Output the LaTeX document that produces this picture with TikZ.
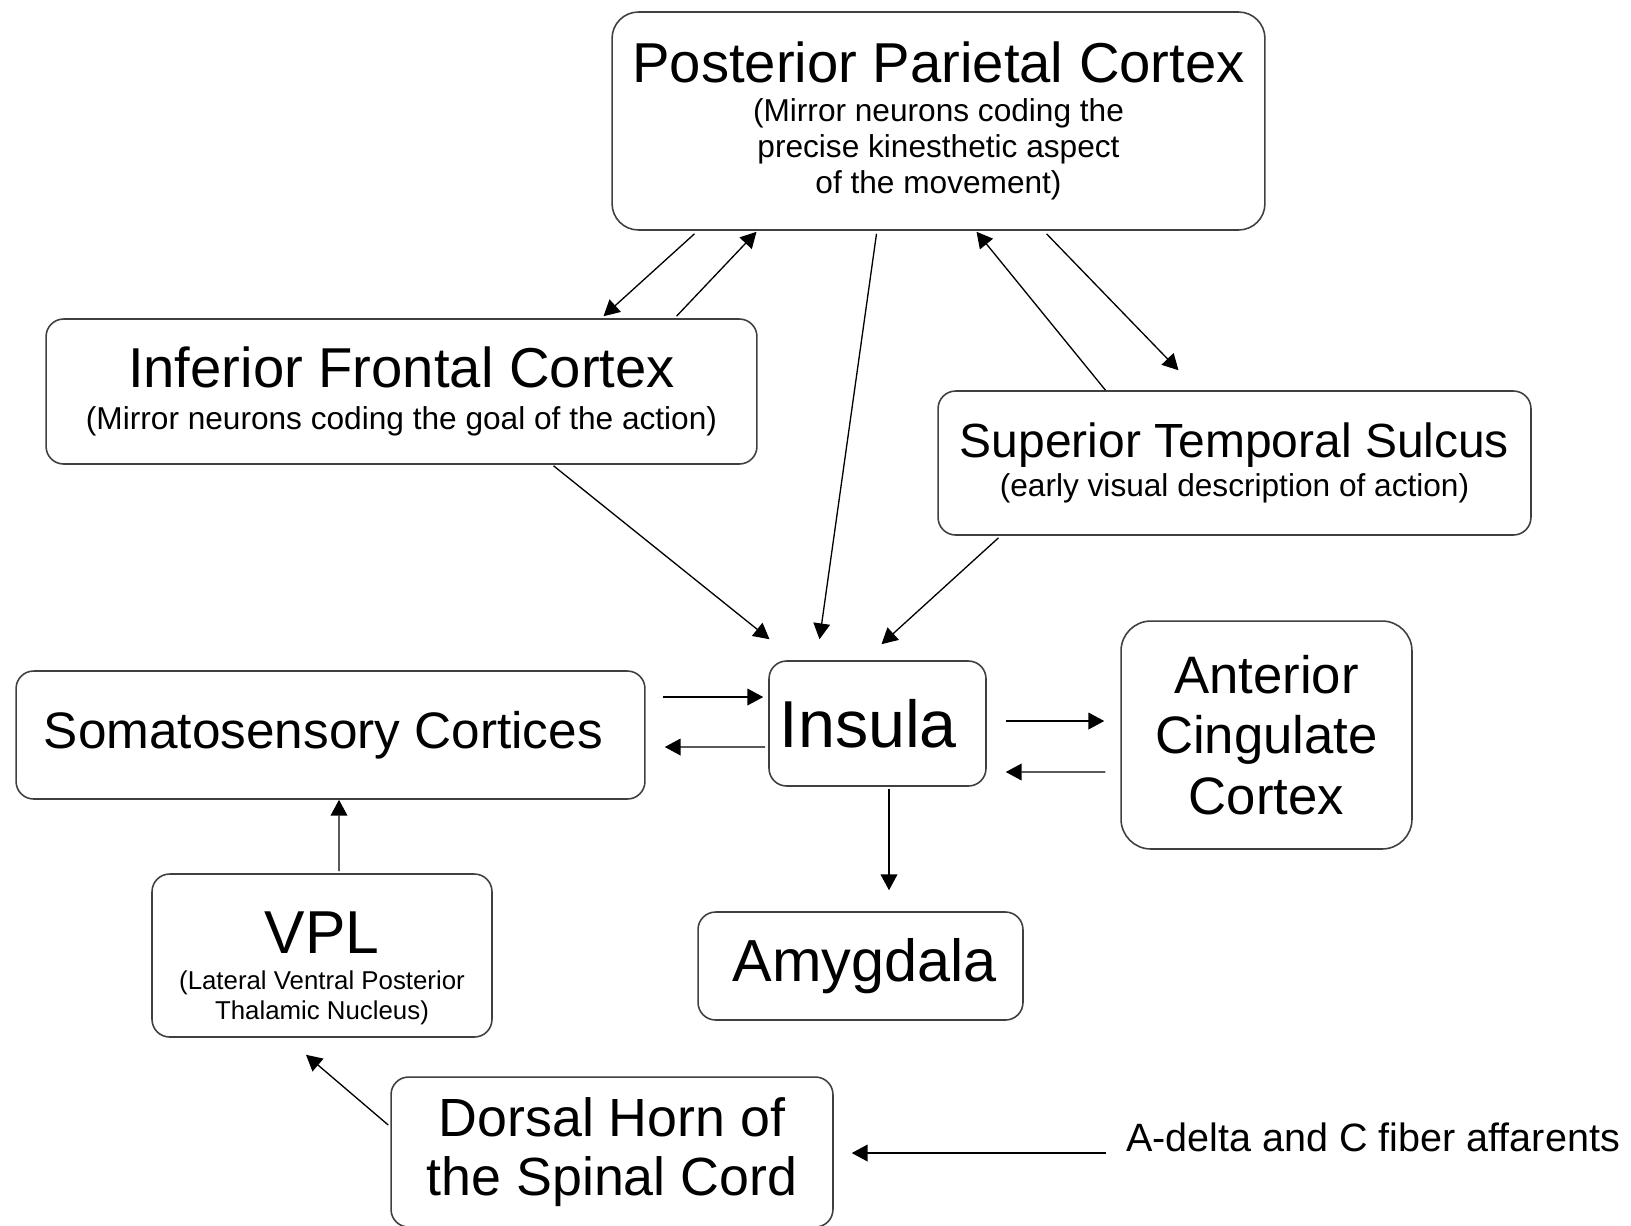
\documentclass[tikz,border=0pt]{standalone}
\usepackage{fontspec}
\setmainfont{Liberation Sans}
\usetikzlibrary{calc}
\usetikzlibrary{arrows.meta}
\tikzset{region/.style={draw=black!75,
                        fill=white,
                        rounded corners=10pt,
                        line width=0.9pt,
                        align=center,
                        inner sep=0pt,
                        font=\fontsize{18}{20.5}\selectfont
                        },
        link/.style={-{Triangle[length=9pt,width=9.5pt]},
                        line width=0.75pt
        },
}
\newcommand{\regiontitle}{\fontsize{32}{36}\selectfont}

\begin{document}
\begin{tikzpicture}
    [x=0.02cm,y=-0.02cm]
    \useasboundingbox (0,0) rectangle (1631,1225);

    % MIRROR SYSTEM
    \node[region, rounded corners=15pt, minimum width=13.06cm, minimum height=4.36cm] (ppc) at (938.5,121) {
        \regiontitle Posterior Parietal Cortex \\[2pt]
        (Mirror neurons coding the \\
        precise kinesthetic aspect \\
        of the movement)
    };

    \node[region, minimum width=14.22cm, minimum height=2.90cm] (ifc) at (401.5,391.5) {
        \regiontitle Inferior Frontal Cortex \\[3pt]
        (Mirror neurons coding the goal of the action)
    };

    \node[region, minimum width=11.86cm, minimum height=2.88cm] (sts) at (1234.5,463) {
        \fontsize{27.3}{30}\selectfont Superior Temporal Sulcus \\[1.5pt]
        (early visual description of action)
    };

    % PAIN PATHWAY
    \node[region, minimum width=12.58cm, minimum height=2.56cm, font=\fontsize{29.2}{33}\selectfont] (soma) at (330.5,735) {
        Somatosensory Cortices
    };

    \node[region, minimum width=4.34cm, minimum height=2.50cm, font=\fontsize{37.8}{42}\selectfont] (ins) at (877.5,723.5) {
        Insula
    };

    \node[region, rounded corners=17pt, minimum width=5.82cm, minimum height=4.56cm, font=\fontsize{30}{34.6}\selectfont] (acc) at (1266.5,735) {
        Anterior \\
        Cingulate \\
        Cortex
    };

    \node[region, minimum width=6.80cm, minimum height=3.26cm, font=\fontsize{14.7}{17}\selectfont] (vpl) at (322,955.5) {
        \fontsize{34.5}{38}\selectfont \rule{0pt}{38pt}VPL \\[3.7pt]
        (Lateral Ventral Posterior \\
        Thalamic Nucleus)
    };

    \node[region, minimum width=6.50cm, minimum height=2.16cm, font=\fontsize{33.8}{38}\selectfont] (amy) at (860.5,966) {
        \hspace*{14pt}Amygdala
    };

    \node[region, minimum width=8.84cm, minimum height=3.00cm, font=\fontsize{30.6}{34}\selectfont] (dh) at (612,1152) {
        Dorsal Horn of \\
        the Spinal Cord
    };

    \node[font=\fontsize{22.5}{26}\selectfont, inner sep=0pt] (aff) at (1373,1137) {A-delta and C fiber affarents};

    % CONNECTIONS
    \draw[link] ($(ppc.south)+(-244,3)$) -- ($(ifc.north)+(202,-2)$);
    \draw[link] ($(ifc.north)+(275,-2)$) -- ($(ppc.south)+(-182,1)$);
    \draw[link] ($(ppc.south)+(-62,3)$) -- ($(ins.north)+(-58,-21)$);
    \draw[link] ($(sts.north)+(-129,0)$) -- ($(ppc.south)+(38,1)$);
    \draw[link] ($(ppc.south)+(108,3)$) -- ($(sts.north)+(-56,-20)$);
    \draw[link] ($(ifc.south)+(152,1)$) -- ($(ins.north)+(-108,-21)$);
    \draw[link] ($(sts.south)+(-236,2)$) -- ($(ins.north)+(4,-16)$);

    \draw[link] ($(soma.east)+(17,-38)$) -- ($(ins.west)+(-5,-26.5)$);
    \draw[link] ($(ins.west)+(-3,23.5)$) -- ($(soma.east)+(19,12)$);
    \draw[link] ($(ins.east)+(19,-2.5)$) -- ($(acc.west)+(-16,-14)$);
    \draw[link] ($(acc.west)+(-15,37)$) -- ($(ins.east)+(19,48.5)$);
    \draw[link] ($(ins.south)+(11.5,2)$) -- ($(amy.north)+(28.5,-21)$);

    \draw[link] ($(vpl.north)+(17,-2)$) -- ($(soma.south)+(8.5,0)$);
    \draw[link] ($(dh.west)+(-2,-27)$) -- ($(vpl.south)+(-16,17)$);
    \draw[link] ($(aff.west)+(-20,16)$) -- ($(dh.east)+(18,1)$);

\end{tikzpicture}
\end{document}
